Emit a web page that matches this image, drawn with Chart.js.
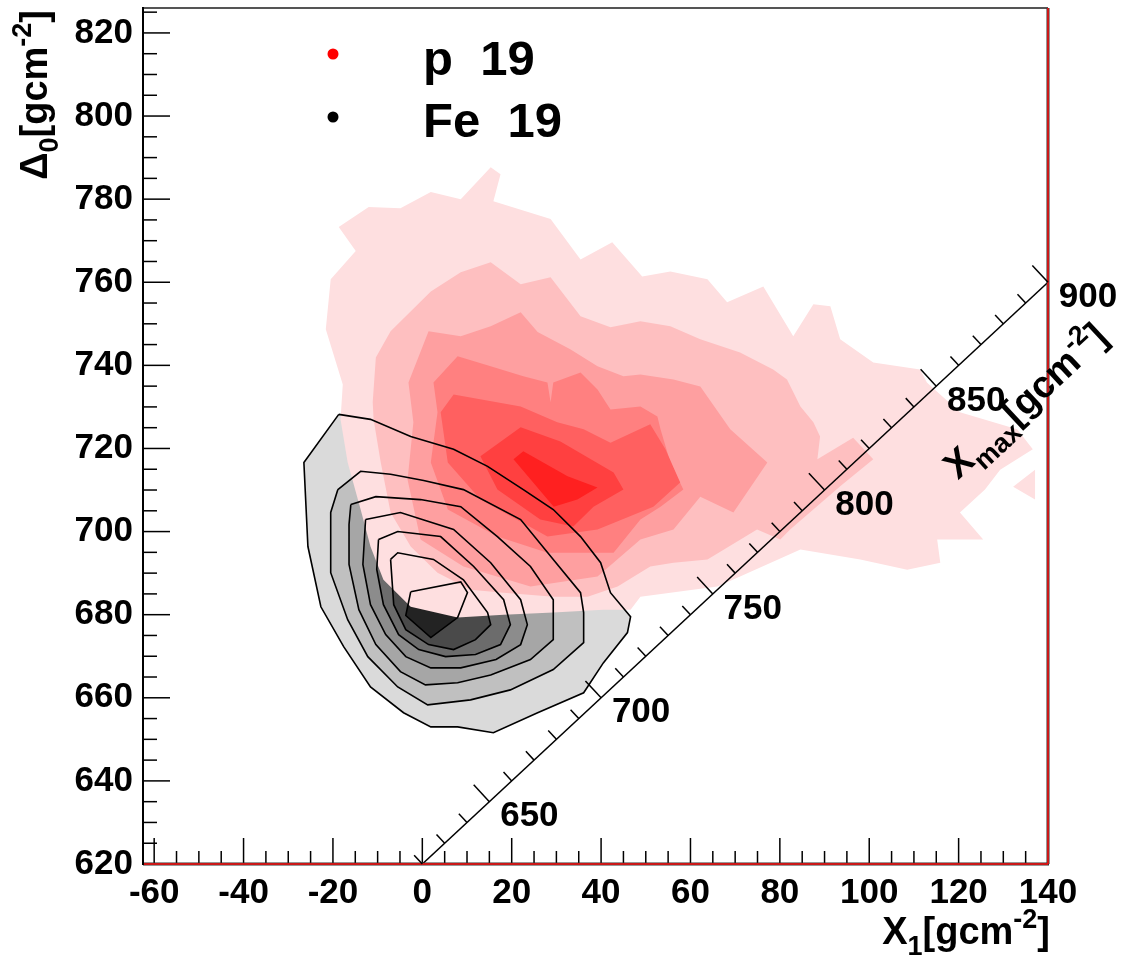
<!DOCTYPE html>
<html><head><meta charset="utf-8">
<script src="https://cdn.jsdelivr.net/npm/chart.js@4.4.0/dist/chart.umd.min.js"></script>
<style>html,body{margin:0;padding:0;background:#fff}canvas{display:block}</style>
</head><body><canvas id="c" width="1124" height="960"></canvas>
<script>
// ---------- axes ----------
const X_RANGE = [-62.5, 140];
const Y_RANGE = [620, 826];
const X_TICKS = [-60, -40, -20, 0, 20, 40, 60, 80, 100, 120, 140];
const Y_TICKS = [620, 640, 660, 680, 700, 720, 740, 760, 780, 800, 820];
const X_MINOR_STEP = 5;
const Y_MINOR_STEP = 5;
// diagonal Xmax axis: runs from (X1,Δ0) start to end, labelled XMAX_RANGE
const DIAG_START = [0, 620];
const DIAG_END = [140, 760];
const XMAX_RANGE = [620, 900];
const XMAX_TICKS = [650, 700, 750, 800, 850, 900];
const XMAX_MINOR_STEP = 10;
// ---------- legend ----------
const SERIES = ['p  19', 'Fe  19'];

// ---------- proton contours (outer -> inner), [X1, Δ0] ----------
const P_LEVEL_1 = [[-18.7,773.3],[-12.0,778.1],[-4.9,777.8],[1.9,781.7],[8.6,780.0],[15.3,787.7],[17.5,786.0],[15.9,779.5],[28.7,775.2],[35.4,765.5],[42.5,769.6],[49.2,761.4],[55.5,762.6],[63.8,760.7],[68.2,755.2],[76.3,759.0],[83.0,747.0],[87.5,754.7],[91.3,754.2],[93.5,746.3],[100.9,740.7],[111.4,739.0],[112.9,735.9],[120.3,728.7],[133.1,724.6],[136.6,719.8],[129.3,714.9],[125.9,710.1],[120.3,704.6],[125.5,698.1],[115.2,698.1],[115.9,692.5],[108.5,690.8],[98.0,693.3],[84.6,695.7],[71.1,689.2],[66.0,686.8],[48.8,684.3],[46.6,681.2],[40.5,681.2],[29.3,680.5],[18.2,680.0],[7.9,679.3],[-2.6,681.9],[-8.7,688.4],[-11.6,696.4],[-13.8,705.3],[-16.7,716.6],[-18.3,727.0],[-17.8,735.4],[-21.6,748.7],[-20.5,760.7],[-14.9,767.5]];
const P_ISLAND = [[132.2,710.8],[137.1,714.9],[137.1,707.7]];
const P_LEVEL_2 = [[-10.4,741.9],[-7.1,748.2],[1.9,757.8],[8.6,762.4],[15.3,764.8],[22.0,759.5],[28.7,761.2],[35.4,751.8],[42.1,749.2],[48.8,750.6],[55.5,749.4],[62.2,746.3],[71.1,743.1],[78.5,739.0],[81.6,736.6],[84.6,730.1],[87.5,726.3],[89.0,722.9],[88.4,717.4],[96.4,722.6],[100.9,717.4],[93.5,710.9],[82.3,700.5],[80.1,698.1],[74.9,700.5],[63.8,693.3],[56.2,692.5],[51.0,691.6],[43.7,686.8],[37.0,684.3],[29.4,684.3],[18.2,685.3],[10.8,686.0],[3.4,690.1],[-2.6,696.4],[-7.1,704.6],[-9.3,716.6],[-10.9,727.0],[-11.1,731.1]];
const P_LEVEL_3 = [[-3.1,735.9],[1.4,748.2],[8.6,747.0],[15.3,749.4],[22.0,752.8],[25.8,748.0],[33.1,743.9],[39.2,739.8],[45.0,737.4],[48.8,737.8],[56.2,736.6],[62.2,734.9],[68.9,724.6],[77.2,716.6],[69.6,704.6],[62.2,708.4],[56.2,700.5],[48.8,698.1],[39.2,689.2],[24.2,686.8],[9.2,691.6],[-0.4,698.1],[-3.3,712.5],[-2.0,726.3]];
const P_LEVEL_4 = [[2.5,735.9],[7.9,742.2],[15.3,739.8],[22.6,737.4],[28.0,735.9],[28.7,731.1],[29.3,735.9],[35.4,738.3],[39.2,734.2],[42.1,729.4],[48.8,730.1],[52.6,727.7],[53.3,724.6],[55.5,716.6],[58.4,710.1],[53.3,706.0],[48.8,702.9],[42.8,694.9],[28.0,694.9],[16.8,698.8],[5.7,705.3],[1.9,716.6],[3.4,728.7]];
const P_LEVEL_5 = [[7.0,733.0],[22.0,730.1],[30.2,726.3],[36.1,724.6],[42.1,721.4],[51.0,725.8],[54.4,719.8],[57.7,711.8],[51.7,706.0],[39.2,700.5],[28.0,698.8],[13.0,707.7],[5.7,716.6],[4.1,728.7]];
const P_LEVEL_6 = [[13.0,718.1],[22.0,725.1],[30.9,721.7],[42.8,714.2],[45.0,710.1],[38.3,706.0],[33.8,701.2],[26.4,702.9],[16.8,710.1]];
const P_LEVEL_7 = [[20.4,717.4],[22.6,719.3],[32.5,713.3],[39.2,710.6],[34.7,707.7],[29.4,706.0]];

// ---------- iron contours (outer -> inner), [X1, Δ0] ----------
const FE_LEVEL_1 = [[-18.7,728.2],[-11.6,727.0],[-2.6,722.9],[7.0,719.8],[14.6,715.7],[22.6,710.1],[29.3,705.3],[35.4,698.8],[39.9,692.5],[42.1,685.3],[46.6,679.5],[45.9,675.7],[40.5,668.4],[36.1,661.2],[25.8,656.4],[15.9,651.6],[7.9,653.0],[1.9,653.0],[-4.2,656.4],[-11.6,662.6],[-17.6,672.3],[-22.7,681.9],[-25.6,696.4],[-26.5,716.6]];
const FE_LEVEL_2 = [[-18.9,710.1],[-13.8,714.5],[-7.1,713.8],[0.3,712.3],[9.2,710.1],[22.0,702.9],[29.3,693.3],[35.4,685.3],[36.1,680.5],[36.1,673.3],[29.3,666.8],[19.7,661.9],[10.8,659.5],[1.2,658.3],[-5.5,662.6],[-12.2,669.9],[-16.7,678.8],[-20.5,690.1],[-20.5,704.6]];
const FE_LEVEL_3 = [[-16.0,706.5],[-10.4,708.4],[-0.4,707.7],[8.6,706.0],[16.8,698.8],[24.2,691.6],[29.3,683.6],[29.3,674.0],[24.2,669.2],[15.3,665.5],[7.9,663.6],[0.7,663.1],[-4.9,666.3],[-10.4,672.8],[-14.2,681.2],[-16.4,692.1],[-16.4,701.7]];
const FE_LEVEL_4 = [[-12.7,702.9],[-4.9,704.6],[7.0,700.5],[15.3,692.5],[22.0,683.6],[23.5,677.6],[22.0,672.8],[16.5,669.2],[8.6,667.2],[1.9,667.2],[-3.7,669.9],[-8.2,675.2],[-11.6,682.4],[-13.3,692.1]];
const FE_LEVEL_5 = [[-9.8,698.1],[-5.5,700.0],[4.1,698.8],[11.5,691.6],[18.2,683.6],[19.7,677.6],[17.5,672.8],[11.9,670.4],[5.2,669.9],[-0.8,671.6],[-5.3,675.2],[-8.7,682.4],[-10.2,690.9]];
const FE_LEVEL_6 = [[-7.1,693.3],[-5.5,694.9],[2.5,693.3],[9.2,688.4],[14.6,680.5],[15.3,677.6],[11.9,674.0],[7.0,671.6],[1.4,672.8],[-3.7,676.4],[-6.4,682.4]];
const FE_LEVEL_7 = [[-2.6,685.5],[8.6,687.9],[10.1,685.3],[7.9,679.3],[1.9,674.5],[-3.7,679.8]];

// ---------- styles ----------
const FONT = "'Liberation Sans', Arial, Helvetica, sans-serif";
const P_FILLS = ['#fedfe0', '#febfc0', '#fe9fa0', '#ff8080', '#ff6060', '#ff4040', '#ff2020'];
const FE_FILLS = ['#dadada', '#c0c0c0', '#a6a6a6', '#8c8c8c', '#6c6c6c', '#4a4a4a', '#232323'];
const LEGEND_COLORS = ['#ff0000', '#000000'];

const P_LEVELS = [P_LEVEL_1, P_LEVEL_2, P_LEVEL_3, P_LEVEL_4, P_LEVEL_5, P_LEVEL_6, P_LEVEL_7];
const FE_LEVELS = [FE_LEVEL_1, FE_LEVEL_2, FE_LEVEL_3, FE_LEVEL_4, FE_LEVEL_5, FE_LEVEL_6, FE_LEVEL_7];

const closed = arr => arr.concat([arr[0]]).map(([x, y]) => ({x, y}));

const datasets = [];
FE_LEVELS.forEach((lv, i) => datasets.push({
  data: closed(lv), fill: 'shape', backgroundColor: FE_FILLS[i],
  borderColor: 'transparent', borderWidth: 0, pointRadius: 0, order: 300 - i
}));
P_LEVELS.forEach((lv, i) => datasets.push({
  data: closed(lv), fill: 'shape', backgroundColor: P_FILLS[i],
  borderColor: 'transparent', borderWidth: 0, pointRadius: 0, order: 200 - i
}));
datasets.push({
  data: closed(P_ISLAND), fill: 'shape', backgroundColor: P_FILLS[0],
  borderColor: 'transparent', borderWidth: 0, pointRadius: 0, order: 199.5
});
FE_LEVELS.forEach((lv, i) => datasets.push({
  data: closed(lv), fill: false, borderColor: '#000', borderWidth: 1.6,
  pointRadius: 0, order: 50
}));
datasets.push({
  data: [{x: DIAG_START[0], y: DIAG_START[1]}, {x: DIAG_END[0], y: DIAG_END[1]}],
  fill: false, borderColor: '#000', borderWidth: 1.5, pointRadius: 0, order: 10
});

function drawRich(ctx, parts, size, align) {
  const fontOf = p => `bold ${(p.sub || p.sup) ? Math.round(size * 0.7) : size}px ${FONT}`;
  let total = 0;
  parts.forEach(p => { ctx.font = fontOf(p); total += ctx.measureText(p.t).width; });
  let cx = align === 'right' ? -total : 0;
  ctx.textAlign = 'left'; ctx.textBaseline = 'alphabetic';
  parts.forEach(p => {
    ctx.font = fontOf(p);
    const dy = p.sub ? size * 0.28 : p.sup ? -size * 0.42 : 0;
    ctx.fillText(p.t, cx, dy);
    cx += ctx.measureText(p.t).width;
  });
}

const decor = {
  id: 'decor',
  afterDatasetsDraw(chart) {
    const {ctx, chartArea: a, scales: {x, y}} = chart;
    const px = v => x.getPixelForValue(v), py = v => y.getPixelForValue(v);
    const seg = (x1, y1, x2, y2) => { ctx.beginPath(); ctx.moveTo(x1, y1); ctx.lineTo(x2, y2); ctx.stroke(); };
    ctx.save();
    ctx.strokeStyle = '#000'; ctx.lineWidth = 1.5;
    for (let v = Y_TICKS[0]; v <= Y_RANGE[1]; v += Y_MINOR_STEP) {
      const major = Y_TICKS.includes(v);
      seg(a.left, py(v), a.left + (major ? 27 : 14), py(v));
    }
    for (let v = X_TICKS[0]; v <= X_RANGE[1]; v += X_MINOR_STEP) {
      const major = X_TICKS.includes(v);
      seg(px(v), a.bottom, px(v), a.bottom - (major ? 26 : 13));
    }
    // frame
    ctx.lineWidth = 2; ctx.strokeStyle = '#555'; seg(a.left, a.top, a.right, a.top);
    ctx.lineWidth = 3; ctx.strokeStyle = '#333';
    seg(a.left, a.bottom, a.right + 1, a.bottom); seg(a.right, a.top, a.right, a.bottom);
    ctx.lineWidth = 1.5; ctx.strokeStyle = '#ff1010';
    seg(a.left, a.bottom, a.right, a.bottom); seg(a.right, a.top, a.right, a.bottom);
    ctx.lineWidth = 2; ctx.strokeStyle = '#000'; seg(a.left, a.top - 1, a.left, a.bottom + 1);

    // diagonal Xmax axis
    const p0 = {x: px(DIAG_START[0]), y: py(DIAG_START[1])};
    const p1 = {x: px(DIAG_END[0]), y: py(DIAG_END[1])};
    const dx = p1.x - p0.x, dy = p1.y - p0.y, L = Math.hypot(dx, dy);
    const ux = dx / L, uy = dy / L, nx = -uy, ny = ux;
    const at = v => { const t = (v - XMAX_RANGE[0]) / (XMAX_RANGE[1] - XMAX_RANGE[0]); return {x: p0.x + dx * t, y: p0.y + dy * t}; };
    ctx.strokeStyle = '#000'; ctx.lineWidth = 1.5;
    for (let v = XMAX_RANGE[0]; v <= XMAX_RANGE[1]; v += XMAX_MINOR_STEP) {
      const major = XMAX_TICKS.includes(v); const p = at(v); const len = major ? 23 : 12;
      seg(p.x, p.y, p.x - nx * len, p.y - ny * len);
    }
    ctx.fillStyle = '#000';
    ctx.font = `bold 35px ${FONT}`; ctx.textAlign = 'center'; ctx.textBaseline = 'middle';
    XMAX_TICKS.forEach(v => { const p = at(v); ctx.fillText(String(v), p.x + 40, p.y + 15); });

    // Xmax title
    ctx.save();
    ctx.translate(p1.x + nx * 84 + ux * 6, p1.y + ny * 84 + uy * 6);
    ctx.rotate(Math.atan2(dy, dx));
    drawRich(ctx, [{t: 'X'}, {t: 'max', sub: true}, {t: '[gcm'}, {t: '-2', sup: true}, {t: ']'}], 38, 'right');
    ctx.restore();

    // X1 title
    ctx.save();
    ctx.translate(a.right + 2, 944);
    drawRich(ctx, [{t: 'X'}, {t: '1', sub: true}, {t: '[gcm'}, {t: '-2', sup: true}, {t: ']'}], 38, 'right');
    ctx.restore();

    // Δ0 title
    ctx.save();
    ctx.translate(47, 10);
    ctx.rotate(-Math.PI / 2);
    drawRich(ctx, [{t: 'Δ'}, {t: '0', sub: true}, {t: '[gcm'}, {t: '-2', sup: true}, {t: ']'}], 38, 'right');
    ctx.restore();

    // legend
    const rows = [{dotY: 54, base: 75}, {dotY: 117, base: 137}];
    SERIES.forEach((name, i) => {
      ctx.fillStyle = LEGEND_COLORS[i];
      ctx.beginPath(); ctx.arc(333, rows[i].dotY, 5.5, 0, Math.PI * 2); ctx.fill();
      ctx.fillStyle = '#000'; ctx.font = `bold 49px ${FONT}`;
      ctx.textAlign = 'left'; ctx.textBaseline = 'alphabetic';
      ctx.fillText(name, 423, rows[i].base);
    });
    ctx.restore();
  }
};

const tickFont = {family: FONT, size: 35, weight: 'bold'};
new Chart(document.getElementById('c'), {
  type: 'line',
  data: {datasets},
  options: {
    responsive: false, animation: false, devicePixelRatio: 1,
    layout: {padding: {left: 0, top: 8, right: 76, bottom: 0}},
    plugins: {legend: {display: false}, tooltip: {enabled: false}},
    elements: {point: {radius: 0}, line: {tension: 0}},
    scales: {
      x: {
        type: 'linear', min: X_RANGE[0], max: X_RANGE[1],
        afterBuildTicks: s => { s.ticks = X_TICKS.map(v => ({value: v})); },
        afterFit: s => { s.height = 96; s.paddingLeft = 0; s.paddingRight = 0; },
        grid: {display: false, drawTicks: false}, border: {display: false},
        ticks: {font: tickFont, color: '#000', padding: 8, maxRotation: 0, autoSkip: false}
      },
      y: {
        type: 'linear', min: Y_RANGE[0], max: Y_RANGE[1],
        afterBuildTicks: s => { s.ticks = Y_TICKS.map(v => ({value: v})); },
        afterFit: s => { s.width = 143; s.paddingTop = 0; s.paddingBottom = 0; },
        grid: {display: false, drawTicks: false}, border: {display: false},
        ticks: {font: tickFont, color: '#000', padding: 10, autoSkip: false}
      }
    }
  },
  plugins: [decor]
});
</script></body></html>
